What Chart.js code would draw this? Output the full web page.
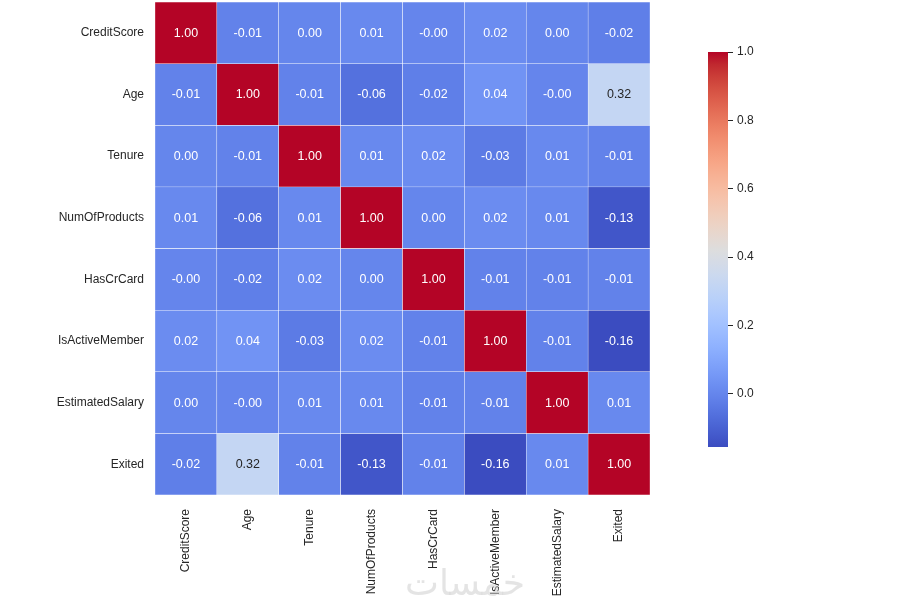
<!DOCTYPE html>
<html><head><meta charset="utf-8">
<script src="https://cdn.jsdelivr.net/npm/chart.js@4.4.0/dist/chart.umd.min.js"></script>
<style>
html,body{margin:0;padding:0;background:#fff;width:922px;height:607px;overflow:hidden;}
#c1{position:absolute;left:0;top:0;}
#c2{position:absolute;left:700px;top:0;}
#wm{position:absolute;left:405px;top:562px;font-family:"DejaVu Sans";font-size:36px;color:rgba(205,205,205,0.55);direction:rtl;white-space:nowrap;}
</style></head><body>
<canvas id="c1" width="660" height="607"></canvas>
<canvas id="c2" width="100" height="607"></canvas>
<div id="wm">خمسات</div>
<script>
// ---- data ----
const rowLabels = ["CreditScore","Age","Tenure","NumOfProducts","HasCrCard","IsActiveMember","EstimatedSalary","Exited"];
const colLabels = ["CreditScore","Age","Tenure","NumOfProducts","HasCrCard","IsActiveMember","EstimatedSalary","Exited"];
const rowCreditScore    = [1.00, -0.01, 0.00, 0.01, -0.001, 0.02, 0.00, -0.02];
const rowAge            = [-0.01, 1.00, -0.01, -0.06, -0.02, 0.04, -0.001, 0.32];
const rowTenure         = [0.00, -0.01, 1.00, 0.01, 0.02, -0.03, 0.01, -0.01];
const rowNumOfProducts  = [0.01, -0.06, 0.01, 1.00, 0.00, 0.02, 0.01, -0.13];
const rowHasCrCard      = [-0.001, -0.02, 0.02, 0.00, 1.00, -0.01, -0.01, -0.01];
const rowIsActiveMember = [0.02, 0.04, -0.03, 0.02, -0.01, 1.00, -0.01, -0.156];
const rowEstimatedSalary= [0.00, -0.001, 0.01, 0.01, -0.01, -0.01, 1.00, 0.01];
const rowExited         = [-0.02, 0.32, -0.01, -0.13, -0.01, -0.156, 0.01, 1.00];
const matrix = [rowCreditScore,rowAge,rowTenure,rowNumOfProducts,rowHasCrCard,rowIsActiveMember,rowEstimatedSalary,rowExited];
const colorbarTicks = [0.0, 0.2, 0.4, 0.6, 0.8, 1.0];

// ---- colormap (coolwarm) ----
const LUT = [[59,76,192],[68,90,204],[77,104,215],[87,117,225],[98,130,234],[108,142,241],[119,154,247],[130,165,251],[141,176,254],[152,185,255],[163,194,255],[174,201,253],[184,208,249],[194,213,244],[204,217,238],[213,219,230],[221,221,221],[229,216,209],[236,211,197],[241,204,185],[245,196,173],[247,187,160],[247,177,148],[247,166,135],[244,154,123],[241,141,111],[236,127,99],[229,112,88],[222,96,77],[213,80,66],[203,62,56],[192,40,47],[180,4,38]];
const vmin = Math.min(...matrix.flat());
const vmax = Math.max(...matrix.flat());
function cmapT(t){ t=Math.max(0,Math.min(1,t)); const p=t*32; const i=Math.min(31,Math.floor(p)); const f=p-i; const a=LUT[i], b=LUT[i+1]; return a.map((c,k)=>Math.round(c+(b[k]-c)*f)); }
function rgbOf(v){ return cmapT((v-vmin)/(vmax-vmin)); }
function css(c){ return `rgb(${c[0]},${c[1]},${c[2]})`; }
function lum(c){ const l=c.map(x=>{x/=255; return x<=0.03928? x/12.92 : Math.pow((x+0.055)/1.055,2.4);}); return 0.2126*l[0]+0.7152*l[1]+0.0722*l[2]; }
const FONT = '"Liberation Sans", Arial, sans-serif';
const TXT = '#262626';

const annot = {
  id:'annot',
  afterDatasetsDraw(chart){
    const ctx=chart.ctx; ctx.save();
    ctx.font = '12.5px ' + FONT; ctx.textAlign='center'; ctx.textBaseline='middle';
    chart.data.datasets.forEach((ds, ri)=>{
      const meta = chart.getDatasetMeta(ri);
      meta.data.forEach((el, ci)=>{
        const v = matrix[ri][ci];
        ctx.fillStyle = lum(rgbOf(v)) > 0.408 ? TXT : '#ffffff';
        const p = el.getProps(['x','y','base'], true);
        ctx.fillText(v.toFixed(2), p.x, (p.y+p.base)/2 + 0.5);
      });
    });
    ctx.restore();
  }
};

new Chart(document.getElementById('c1'), {
  type:'bar',
  data:{
    labels: colLabels,
    datasets: rowLabels.map((r, ri)=>({
      label:r,
      data: colLabels.map(()=>[ri, ri+1]),
      backgroundColor: matrix[ri].map(v=>css(rgbOf(v))),
      borderColor:'#ffffff', borderWidth:0.5, borderSkipped:false,
      barPercentage:1, categoryPercentage:1, grouped:false
    }))
  },
  options:{
    responsive:false, animation:false,
    layout:{padding:{top:2,right:10,left:0,bottom:0}},
    plugins:{legend:{display:false}, tooltip:{enabled:false}},
    scales:{
      x:{type:'category', grid:{display:false, drawTicks:false}, border:{display:false},
         ticks:{maxRotation:90, minRotation:90, padding:14, color:TXT, font:{family:FONT,size:12}, autoSkip:false},
         afterFit:s=>{s.height=112; s.paddingLeft=0; s.paddingRight=0; s.paddingTop=0; s.paddingBottom=0;}},
      y:{type:'linear', min:0, max:8, reverse:true, grid:{display:false, drawTicks:false}, border:{display:false},
         afterBuildTicks:ax=>{ax.ticks=rowLabels.map((_,i)=>({value:i+0.5}));},
         ticks:{autoSkip:false, padding:11, color:TXT, font:{family:FONT,size:12}, callback:(v,i)=>rowLabels[i]},
         afterFit:s=>{s.width=155; s.paddingTop=0; s.paddingBottom=0; s.paddingLeft=0; s.paddingRight=0;}}
    }
  },
  plugins:[annot]
});

new Chart(document.getElementById('c2'), {
  type:'bar',
  data:{ labels:[''], datasets:[{ data:[[vmin, vmax]], borderWidth:0, barPercentage:1, categoryPercentage:1,
    backgroundColor:(c)=>{
      const ch=c.chart; const ys=ch.scales.y; if(!ys||!ch.chartArea) return '#888';
      const g=ch.ctx.createLinearGradient(0, ys.getPixelForValue(vmin), 0, ys.getPixelForValue(vmax));
      LUT.forEach((col,i)=>g.addColorStop(i/32, css(col)));
      return g;
    } }] },
  options:{
    responsive:false, animation:false,
    layout:{padding:{left:8, top:52, bottom:160, right:0}},
    plugins:{legend:{display:false}, tooltip:{enabled:false}},
    scales:{
      x:{display:false},
      y:{position:'right', min:vmin, max:vmax,
         afterBuildTicks:ax=>{ax.ticks=colorbarTicks.map(v=>({value:v}));},
         grid:{drawOnChartArea:false, drawTicks:true, tickLength:5, color:TXT, lineWidth:1},
         border:{display:false},
         ticks:{autoSkip:false, padding:4, color:TXT, font:{family:FONT,size:12}, callback:v=>Number(v).toFixed(1)},
         afterFit:s=>{s.width=72;}}
    }
  }
});
</script>
</body></html>
